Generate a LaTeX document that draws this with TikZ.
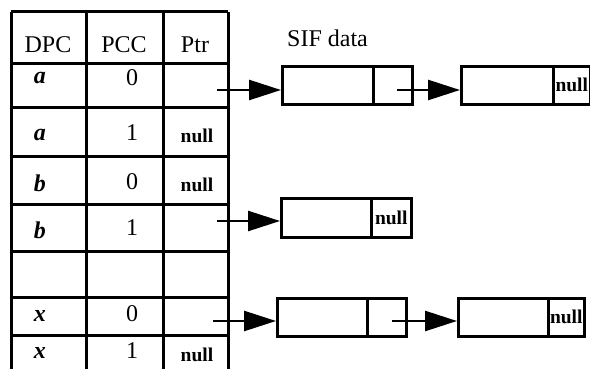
\documentclass[tikz,border=0pt]{standalone}
\usepackage{fontspec}
\setmainfont{Liberation Serif}
\usetikzlibrary{arrows.meta}
\begin{document}
\begin{tikzpicture}[x=1pt,y=-1pt,
  tbl/.style={line width=3pt},
  cellbox/.style={draw,line width=2.6pt,inner sep=0pt,anchor=north west},
  txt/.style={font=\fontsize{24}{27}\selectfont,inner sep=0pt},
  itx/.style={font=\fontsize{24}{27}\selectfont\itshape\bfseries,inner sep=0pt},
  nul/.style={font=\fontsize{19.5}{21}\selectfont\bfseries,inner sep=0pt},
  ptrarrow/.style={line width=2.6pt,-{Triangle[length=32pt,width=20pt]}}]
\useasboundingbox[fill=white] (0,0) rectangle (590,369);

% table grid
\foreach \x in {11,86,163,228} \draw[tbl] (\x,12) -- (\x,369);
\foreach \y in {12,64,108,157,204,251,297,335} \draw[tbl] (11,\y) -- (228,\y);

% header
\node[txt] (hdpc) at (48,45) {DPC};
\node[txt] (hpcc) at (124,45) {PCC};
\node[txt] (hptr) at (195,45) {Ptr};

% rows
\node[itx] (r1a) at (40,78) {a};
\node[txt] (r1b) at (132,78) {0};
\node[itx] (r2a) at (40,135) {a};
\node[txt] (r2b) at (132,133) {1};
\node[nul] (r2c) at (197,136) {null};
\node[itx] (r3a) at (40,183) {b};
\node[txt] (r3b) at (132,182) {0};
\node[nul] (r3c) at (197,185) {null};
\node[itx] (r4a) at (40,230) {b};
\node[txt] (r4b) at (132,228) {1};
\node[itx] (r6a) at (40,316) {x};
\node[txt] (r6b) at (132,314) {0};
\node[itx] (r7a) at (40,353) {x};
\node[txt] (r7b) at (132,351) {1};
\node[nul] (r7c) at (197,355) {null};

% SIF data label
\node[txt,anchor=west] (sif) at (287,38) {SIF data};

% SIF boxes
\node[cellbox,minimum width=91pt,minimum height=38pt] (s1d) at (281,65) {};
\node[cellbox,minimum width=39pt,minimum height=38pt] (s1p) at (372,65) {};
\node[cellbox,minimum width=92pt,minimum height=38pt] (s2d) at (460,65) {};
\node[cellbox,minimum width=37pt,minimum height=38pt,nul] (s2p) at (552,65) {null};

\node[cellbox,minimum width=90pt,minimum height=39pt] (s3d) at (280,197) {};
\node[cellbox,minimum width=40pt,minimum height=39pt,nul] (s3p) at (370,197) {null};

\node[cellbox,minimum width=90pt,minimum height=38pt] (s4d) at (276,297) {};
\node[cellbox,minimum width=39pt,minimum height=38pt] (s4p) at (366,297) {};
\node[cellbox,minimum width=90pt,minimum height=38pt] (s5d) at (457,297) {};
\node[cellbox,minimum width=36pt,minimum height=38pt,nul] (s5p) at (547,297) {null};

% pointer starts
\coordinate (pa0) at (217,90);
\coordinate (pb1) at (217,221);
\coordinate (px0) at (213,321);
\coordinate (q1) at (397,90);
\coordinate (q4) at (392,321);

\draw[ptrarrow] (pa0) -- (pa0 -| s1d.west);
\draw[ptrarrow] (q1) -- (q1 -| s2d.west);
\draw[ptrarrow] (pb1) -- (pb1 -| s3d.west);
\draw[ptrarrow] (px0) -- (px0 -| s4d.west);
\draw[ptrarrow] (q4) -- (q4 -| s5d.west);
\end{tikzpicture}
\end{document}
